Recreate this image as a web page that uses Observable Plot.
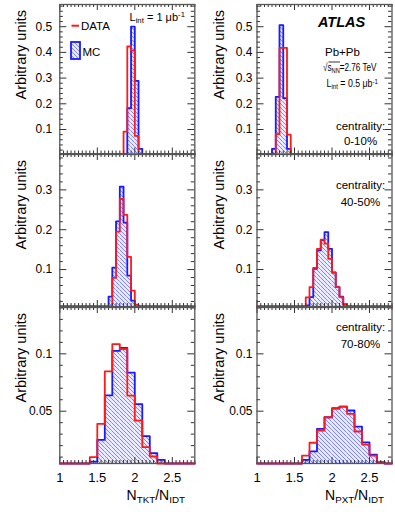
<!DOCTYPE html>
<html><head><meta charset="utf-8">
<script src="https://cdn.jsdelivr.net/npm/d3@7"></script>
<script src="https://cdn.jsdelivr.net/npm/@observablehq/plot@0.6"></script>
<style>
body{margin:0;background:#fff;}
#chart{position:relative;width:395px;height:512px;overflow:hidden;font-family:"Liberation Sans",Arial,Helvetica,sans-serif;}
#chart svg.pnl{position:absolute;}
</style></head><body>
<div id="chart"></div>
<script>
// ---------------- data ----------------
const xDomain = [1, 2.8];
const xMajor = [1, 1.5, 2, 2.5];
const xLabels = ["1", "1.5", "2", "2.5"];

// top-left: N_TKT/N_IDT, 0-10%
const binsTL = [1.85, 1.90, 1.95, 2.00, 2.05];
const dataTL = [0.092, 0.423, 0.407, 0.075, 0.0];
const mcTL   = [0.0, 0.183, 0.500, 0.289, 0.025];
// top-right: N_PXT/N_IDT, 0-10%
const binsTR = [1.20, 1.25, 1.30, 1.35, 1.40];
const dataTR = [0.0, 0.082, 0.418, 0.418, 0.080];
const mcTR   = [0.025, 0.227, 0.506, 0.222, 0.025];
// middle-left: 40-50%
const binsML = [1.65, 1.70, 1.75, 1.80, 1.85, 1.90, 1.95, 2.00, 2.05];
const dataML = [0.005, 0.079, 0.195, 0.277, 0.237, 0.132, 0.047, 0.012, 0.002];
const mcML   = [0.032, 0.105, 0.221, 0.308, 0.218, 0.085, 0.022, 0.004, 0.0];
// middle-right: 40-50%
const binsMR = [1.60, 1.65, 1.70, 1.75, 1.80, 1.85, 1.90, 1.95, 2.00, 2.05, 2.10, 2.15, 2.20];
const dataMR = [0.008, 0.030, 0.056, 0.104, 0.152, 0.175, 0.165, 0.127, 0.092, 0.056, 0.031, 0.013, 0.005];
const mcMR   = [0.0, 0.010, 0.031, 0.102, 0.148, 0.173, 0.194, 0.152, 0.093, 0.056, 0.032, 0.012, 0.004];
// bottom-left: 70-80%
const binsBL = [1.4, 1.5, 1.6, 1.7, 1.8, 1.9, 2.0, 2.1, 2.2, 2.3];
const dataBL = [0.0099, 0.039, 0.0847, 0.1085, 0.1042, 0.0636, 0.0418, 0.0186, 0.0105, 0.004];
const mcBL   = [0.006, 0.025, 0.0638, 0.1025, 0.1052, 0.0837, 0.0561, 0.0282, 0.0134, 0.0076];
// bottom-right: 70-80%
const binsBR = [1.6, 1.7, 1.8, 1.9, 2.0, 2.1, 2.2, 2.3, 2.4, 2.5, 2.6];
const dataBR = [0.0113, 0.0225, 0.0331, 0.0447, 0.052, 0.054, 0.0477, 0.0323, 0.0209, 0.0113, 0.0058];
const mcBR   = [0.0076, 0.015, 0.0346, 0.0447, 0.0526, 0.054, 0.0506, 0.0366, 0.0229, 0.0122, 0.0058];

const yMajorTop = [0.1, 0.2, 0.3, 0.4, 0.5];
const yLabelsTop = ["0.1", "0.2", "0.3", "0.4", "0.5"];
const yMajorMid = [0.1, 0.2, 0.3];
const yLabelsMid = ["0.1", "0.2", "0.3"];
const yMajorBot = [0.05, 0.1];
const yLabelsBot = ["0.05", "0.1"];
const centralities = ["0-10%", "40-50%", "70-80%"];

// ---------------- layout ----------------
const RED = "#ff1a1a", BLUE = "#1a1aff", AX = "#333", FRAME = "#555";
const HATCH_LINE = "#5a62ff", HATCH_BG = "#e9eaff";
const colGeo = [
  {left: 0, width: 197, ml: 59.3, mr: 197 - 194.3, yPad: 7.5},
  {left: 197, width: 198, ml: 59.5, mr: 198 - (391.5 - 197), yPad: 4.5}
];
const rowGeo = [
  {top: 0, height: 154, mt: 4, mb: 0.5, yDomain: [0.0047, 0.5864], major: yMajorTop, labels: yLabelsTop, minorStep: 0.02},
  {top: 154, height: 152, mt: 0, mb: 0, yDomain: [0.0073, 0.3887], major: yMajorMid, labels: yLabelsMid, minorStep: 0.02},
  {top: 307, height: 205, mt: 0, mb: 49, yDomain: [0.0044, 0.1404], major: yMajorBot, labels: yLabelsBot, minorStep: 0.01}
];
const panels = [
  {col: 0, row: 0, bins: binsTL, bw: 0.05, data: dataTL, mc: mcTL},
  {col: 1, row: 0, bins: binsTR, bw: 0.05, data: dataTR, mc: mcTR},
  {col: 0, row: 1, bins: binsML, bw: 0.05, data: dataML, mc: mcML},
  {col: 1, row: 1, bins: binsMR, bw: 0.05, data: dataMR, mc: mcMR},
  {col: 0, row: 2, bins: binsBL, bw: 0.1, data: dataBL, mc: mcBL},
  {col: 1, row: 2, bins: binsBR, bw: 0.1, data: dataBR, mc: mcBR}
];
const xMinor = d3.range(1, 2.8001, 0.05).map(v => +v.toFixed(2)).filter(v => !xMajor.includes(v));
const chart = document.getElementById("chart");

function addHatch(svgSel, id) {
  const pat = svgSel.insert("defs", ":first-child").append("pattern")
    .attr("id", id).attr("patternUnits", "userSpaceOnUse").attr("width", 4).attr("height", 4);
  pat.append("rect").attr("width", 4).attr("height", 4).style("fill", HATCH_BG).style("stroke", "none");
  pat.append("path").attr("d", "M-1,-1 L5,5 M-1,3 L1,5 M3,-1 L5,1")
    .style("stroke", HATCH_LINE).style("stroke-width", "0.75px").style("fill", "none");
}

panels.forEach((p, k) => {
  const g = colGeo[p.col], r = rowGeo[p.row];
  const plotW = g.width - g.ml - g.mr;
  const plotH = r.height - r.mt - r.mb;
  const hid = "hatch" + k;
  const rows = p.bins.map((b, i) => ({x1: b, x2: +(b + p.bw).toFixed(3), data: p.data[i], mc: p.mc[i]}));
  const step = key => [{x: xDomain[0], y: 0}, ...rows.map(d => ({x: d.x1, y: d[key]})),
    {x: rows[rows.length - 1].x2, y: 0}, {x: xDomain[1], y: 0}];
  const yMinor = d3.range(r.minorStep, r.yDomain[1], r.minorStep).map(v => +v.toFixed(3))
    .filter(v => !r.major.some(m => Math.abs(m - v) < 1e-6));
  const marks = [
    Plot.rectY(rows, {x1: "x1", x2: "x2", y: "mc", fill: `url(#${hid})`, inset: 0}),
    Plot.lineY(step("mc"), {x: "x", y: "y", curve: "step-after", stroke: BLUE, strokeWidth: 1.8}),
    Plot.lineY(step("data"), {x: "x", y: "y", curve: "step-after", stroke: RED, strokeWidth: 1.8}),
    Plot.tickY(r.major, {insetRight: plotW - 7, stroke: AX}),
    Plot.tickY(r.major, {insetLeft: plotW - 7, stroke: AX}),
    Plot.tickY(yMinor, {insetRight: plotW - 3.5, stroke: AX}),
    Plot.tickY(yMinor, {insetLeft: plotW - 3.5, stroke: AX}),
    Plot.tickX(xMajor, {insetTop: plotH - 6, stroke: AX}),
    Plot.tickX(xMajor, {insetBottom: plotH - 6, stroke: AX}),
    Plot.tickX(xMinor, {insetTop: plotH - 3, stroke: AX}),
    Plot.tickX(xMinor, {insetBottom: plotH - 3, stroke: AX}),
    Plot.axisY(r.major, {tickSize: 0, tickPadding: g.yPad, fontSize: 12,
      tickFormat: d => r.labels[r.major.indexOf(d)]}),
    Plot.frame({stroke: FRAME, strokeWidth: 1.3})
  ];
  if (p.row === 2) {
    marks.push(Plot.axisX(xMajor, {tickSize: 0, tickPadding: 9.5, fontSize: 13,
      tickFormat: d => xLabels[xMajor.indexOf(d)]}));
  }
  const svg = Plot.plot({
    width: g.width, height: r.height,
    marginLeft: g.ml, marginRight: g.mr, marginTop: r.mt, marginBottom: r.mb,
    x: {domain: xDomain, axis: null},
    y: {domain: r.yDomain, clamp: true, axis: null},
    style: {overflow: "visible", background: "transparent", fontFamily: "Liberation Sans, Arial, sans-serif", color: "#000"},
    marks
  });
  addHatch(d3.select(svg), hid);
  svg.classList.add("pnl");
  svg.style.left = g.left + "px";
  svg.style.top = r.top + "px";
  chart.appendChild(svg);
});

// ---------------- annotations overlay ----------------
const ov = d3.select(chart).append("svg").attr("class", "pnl")
  .attr("width", 395).attr("height", 512).style("left", "0px").style("top", "0px")
  .attr("font-family", "Liberation Sans, Arial, sans-serif");
addHatch(ov, "hatchLegend");

function rich(x, y, segs, {size = 11.5, anchor = "start", weight = null, italic = false, rotate = false, fit = null} = {}) {
  const t = ov.append("text").attr("x", 0).attr("y", 0).attr("font-size", size)
    .attr("text-anchor", anchor).attr("fill", "#000");
  if (weight) t.attr("font-weight", weight);
  if (italic) t.attr("font-style", "italic");
  let shift = 0;
  for (const [s, kind] of segs) {
    const target = kind === "sub" ? 0.2 * size : kind === "sup" ? -0.3 * size : 0;
    t.append("tspan").attr("dy", target - shift).attr("font-size", kind ? size * 0.7 : size).text(s);
    shift = target;
  }
  let tr = `translate(${x},${y})`;
  if (rotate) tr += " rotate(-90)";
  if (fit) {
    const w = t.node().getComputedTextLength();
    if (w > 0) tr += ` scale(${fit / w},1)`;
  }
  t.attr("transform", tr);
  return t;
}

// y titles
for (const r of rowGeo) {
  const yTop = r.top + r.mt + 6;
  rich(26, yTop, [["Arbitrary units"]], {size: 14.5, anchor: "end", rotate: true});
  rich(223.5, yTop, [["Arbitrary units"]], {size: 14.5, anchor: "end", rotate: true});
}
// x titles
rich(185, 500, [["N"], ["TKT", "sub"], ["/N"], ["IDT", "sub"]], {size: 14, anchor: "end"});
rich(384, 500, [["N"], ["PXT", "sub"], ["/N"], ["IDT", "sub"]], {size: 14, anchor: "end"});

// legend (top-left)
ov.append("line").attr("x1", 71.5).attr("x2", 79).attr("y1", 25.7).attr("y2", 25.7)
  .attr("stroke", RED).attr("stroke-width", 2);
rich(81, 30, [["DATA"]], {size: 11.5});
ov.append("rect").attr("x", 71).attr("y", 42).attr("width", 9).attr("height", 17)
  .attr("fill", "url(#hatchLegend)").attr("stroke", BLUE).attr("stroke-width", 1.8);
rich(82.5, 55.5, [["MC"]], {size: 11.5});
rich(129.5, 20.7, [["L"], ["int", "sub"], [" = 1 μb"], ["-1", "sup"]], {size: 11, fit: 55.5});

// top-right labels
rich(341.5, 26.5, [["ATLAS"]], {size: 14.5, anchor: "middle", weight: "bold", italic: true});
rich(325, 55.5, [["Pb+Pb"]], {size: 11.5});
rich(323, 71, [["√"], ["s"], ["NN", "sub"], ["=2.76 TeV"]], {size: 11, fit: 53.5});
ov.append("line").attr("x1", 328.5).attr("x2", 340).attr("y1", 62).attr("y2", 62).attr("stroke", "#000").attr("stroke-width", 0.8);
rich(326.5, 87, [["L"], ["int", "sub"], [" = 0.5 μb"], ["-1", "sup"]], {size: 11, fit: 51.5});

const centY = [[129.5, 144.5], [189, 206], [331, 348]];
centralities.forEach((c, i) => {
  rich(360.5, centY[i][0], [["centrality:"]], {size: 11.5, anchor: "middle"});
  rich(360.5, centY[i][1], [[c]], {size: 11.5, anchor: "middle"});
});
</script></body></html>
